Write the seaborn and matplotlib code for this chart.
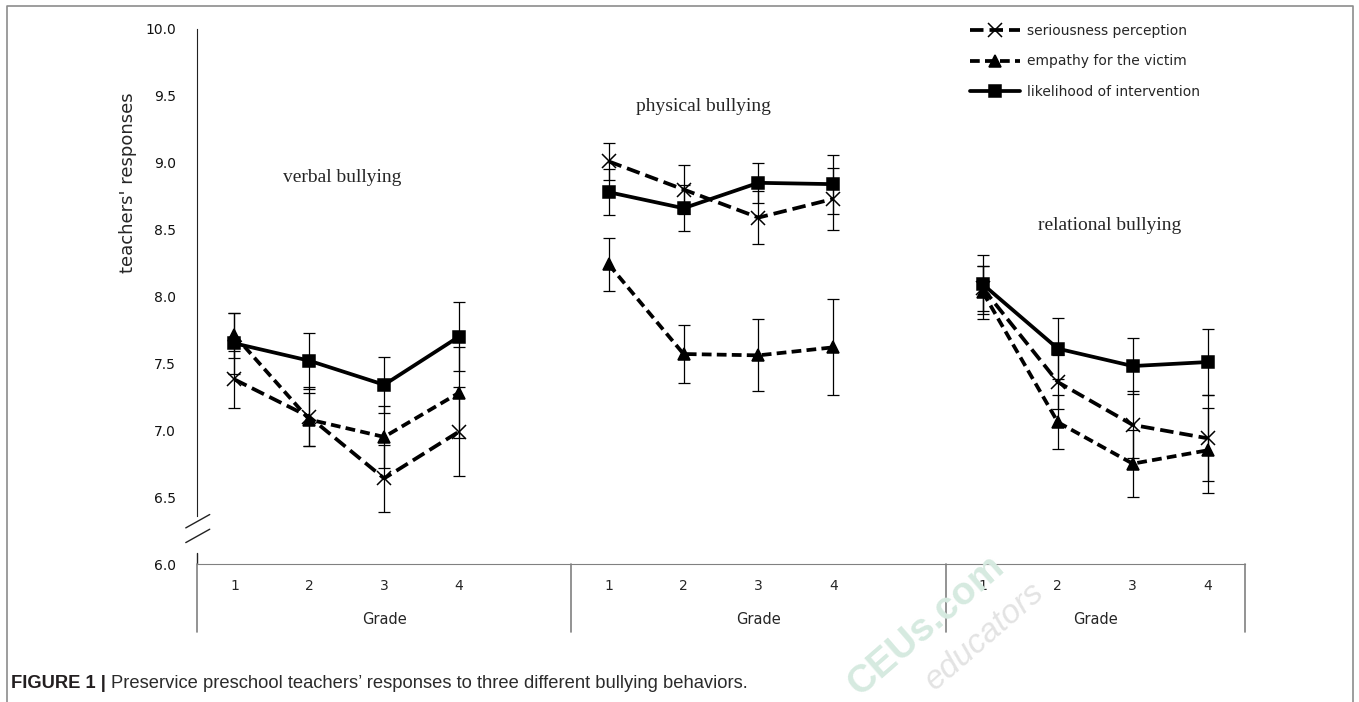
import numpy as np
import pandas as pd
import matplotlib
matplotlib.use("Agg")
import matplotlib.pyplot as plt
from matplotlib.lines import Line2D
import seaborn as sns

sns.set_style("white")
plt.rcParams['font.family'] = ['DejaVu Sans']

# values
bullying = ['verbal bullying', 'physical bullying', 'relational bullying']
grades = [1, 2, 3, 4]
measures = ['seriousness perception', 'empathy for the victim', 'likelihood of intervention']

seriousness_mean = [[7.38, 7.10, 6.64, 6.99], [9.01, 8.80, 8.59, 8.73], [8.06, 7.36, 7.04, 6.94]]
seriousness_se = [[0.21, 0.22, 0.25, 0.33], [0.14, 0.18, 0.20, 0.23], [0.17, 0.20, 0.25, 0.32]]
empathy_mean = [[7.71, 7.08, 6.95, 7.28], [8.24, 7.57, 7.56, 7.62], [8.03, 7.06, 6.75, 6.85]]
empathy_se = [[0.17, 0.20, 0.23, 0.34], [0.20, 0.22, 0.27, 0.36], [0.20, 0.20, 0.25, 0.32]]
likelihood_mean = [[7.65, 7.52, 7.34, 7.70], [8.78, 8.66, 8.85, 8.84], [8.09, 7.61, 7.48, 7.51]]
likelihood_se = [[0.23, 0.21, 0.21, 0.26], [0.17, 0.17, 0.15, 0.22], [0.22, 0.23, 0.21, 0.25]]

yticks = [6.0, 6.5, 7.0, 7.5, 8.0, 8.5, 9.0, 9.5, 10.0]

GROUP_W = 5  # x units per bullying group

rows = []
for m, means, ses in zip(measures,
                         [seriousness_mean, empathy_mean, likelihood_mean],
                         [seriousness_se, empathy_se, likelihood_se]):
    for gi, b in enumerate(bullying):
        for k, g in enumerate(grades):
            rows.append(dict(bullying=b, grade=g, measure=m,
                             mean=means[gi][k], se=ses[gi][k],
                             x=gi * GROUP_W + g - 0.5))
df = pd.DataFrame(rows)

W, H = 1359, 702
fig = plt.figure(figsize=(W / 100, H / 100), dpi=100)
ax = fig.add_axes([197 / W, 138 / H, 1048 / W, 535 / H])

ax.errorbar(df['x'], df['mean'], yerr=df['se'], fmt='none', ecolor='black',
            elinewidth=0.9, capsize=4.5, capthick=0.9, zorder=2)

LW = 2.7
style_map = {measures[0]: (0, (3.6, 1.6)), measures[1]: (0, (2.6, 1.4)), measures[2]: '-'}
marker_map = {measures[0]: 'x', measures[1]: '^', measures[2]: 's'}
msize_map = {measures[0]: 10, measures[1]: 9, measures[2]: 9}
for m in measures:
    sub = df[df['measure'] == m]
    sns.lineplot(data=sub, x='x', y='mean', units='bullying', estimator=None,
                 color='black', linestyle=style_map[m], marker=marker_map[m],
                 markersize=msize_map[m], markeredgecolor='black', markeredgewidth=1.1,
                 linewidth=LW, legend=False, ax=ax, zorder=3)

ax.set_xlim(0, 14)
ax.set_ylim(6, 10)
ax.set_xlabel('')
ax.set_ylabel('')

# y axis with a break
for s in ['top', 'right']:
    ax.spines[s].set_visible(False)
ax.spines['left'].set_bounds(6.36, 10)
ax.spines['left'].set_color('#222222')
ax.spines['bottom'].set_color('#808080')
ax.plot([0, 0], [6.0, 6.08], color='#222222', lw=1, clip_on=False)
for yb in [6.21, 6.32]:
    ax.plot([-0.15, 0.17], [yb - 0.05, yb + 0.05], color='#222222', lw=1, clip_on=False)

ax.set_yticks(yticks)
ax.set_yticklabels(['%.1f' % v for v in yticks])
ax.tick_params(axis='y', direction='in', length=4, width=1, pad=15,
               labelsize=10, colors='#111111')

xt = [gi * GROUP_W + g - 0.5 for gi in range(len(bullying)) for g in grades]
ax.set_xticks(xt)
ax.set_xticklabels([str(g) for gi in range(len(bullying)) for g in grades])
ax.tick_params(axis='x', length=0, pad=11, labelsize=10)

# category-table lines under the axis
xtr = ax.get_xaxis_transform()
for xs in [0, 5, 10, 14]:
    ax.plot([xs, xs], [0, -68 / 535], color='#808080', lw=1.2, transform=xtr, clip_on=False)
for gi, xc in enumerate([2.5, 7.5, 12.0]):
    ax.text(xc, -55 / 535, 'Grade', transform=xtr, ha='center', va='center', fontsize=10.5)

ax.text(-69 / 1048, (564 - 183) / 535, "teachers' responses", transform=ax.transAxes,
        rotation=90, ha='center', va='center', fontsize=13)

title_pos = [(1.94, 8.89), (6.77, 9.42), (12.19, 8.53)]
for b, (tx, ty) in zip(bullying, title_pos):
    ax.text(tx, ty, b, ha='center', va='center', fontsize=14, family='Liberation Serif')

handles = [Line2D([], [], color='black', lw=LW, linestyle=style_map[m], marker=marker_map[m],
                  markersize=msize_map[m], markeredgewidth=1.1, markeredgecolor='black')
           for m in measures]
leg = ax.legend(handles, measures, loc='upper left', bbox_to_anchor=((970 - 197) / 1048, 1.009),
                frameon=False, fontsize=10, handlelength=3.6, handletextpad=0.5,
                labelspacing=1.17, borderpad=0, borderaxespad=0)

# border lines and caption
fig.add_artist(Line2D([7 / W, 7 / W, 1353 / W, 1353 / W], [-0.01, 1 - 6 / H, 1 - 6 / H, -0.01],
                      transform=fig.transFigure, color='#8c8c8c', lw=1.2))
fig.text(926 / W, 1 - 626 / H, 'CEUs.com', rotation=41, fontsize=28, fontweight='bold',
         color='#d6eae0', ha='center', va='center', family='Liberation Sans', zorder=0)
fig.text(985 / W, 1 - 636 / H, 'educators', rotation=41, fontsize=24, style='italic',
         color='#e3e3e3', ha='center', va='center', family='Liberation Sans', zorder=0)

cap_y = 1 - 683 / H
t1 = fig.text(11 / W, cap_y, 'FIGURE 1 |', fontsize=13.2, fontweight='bold', color='#231f20',
              family='Liberation Sans', va='center')
fig.canvas.draw()
bb = t1.get_window_extent(renderer=fig.canvas.get_renderer())
fig.text((bb.x1 + 5) / W, cap_y,
         'Preservice preschool teachers\u2019 responses to three different bullying behaviors.',
         fontsize=13.2, color='#2b2b2b', family='Liberation Sans', va='center')

fig.savefig('out.png', dpi=100)
